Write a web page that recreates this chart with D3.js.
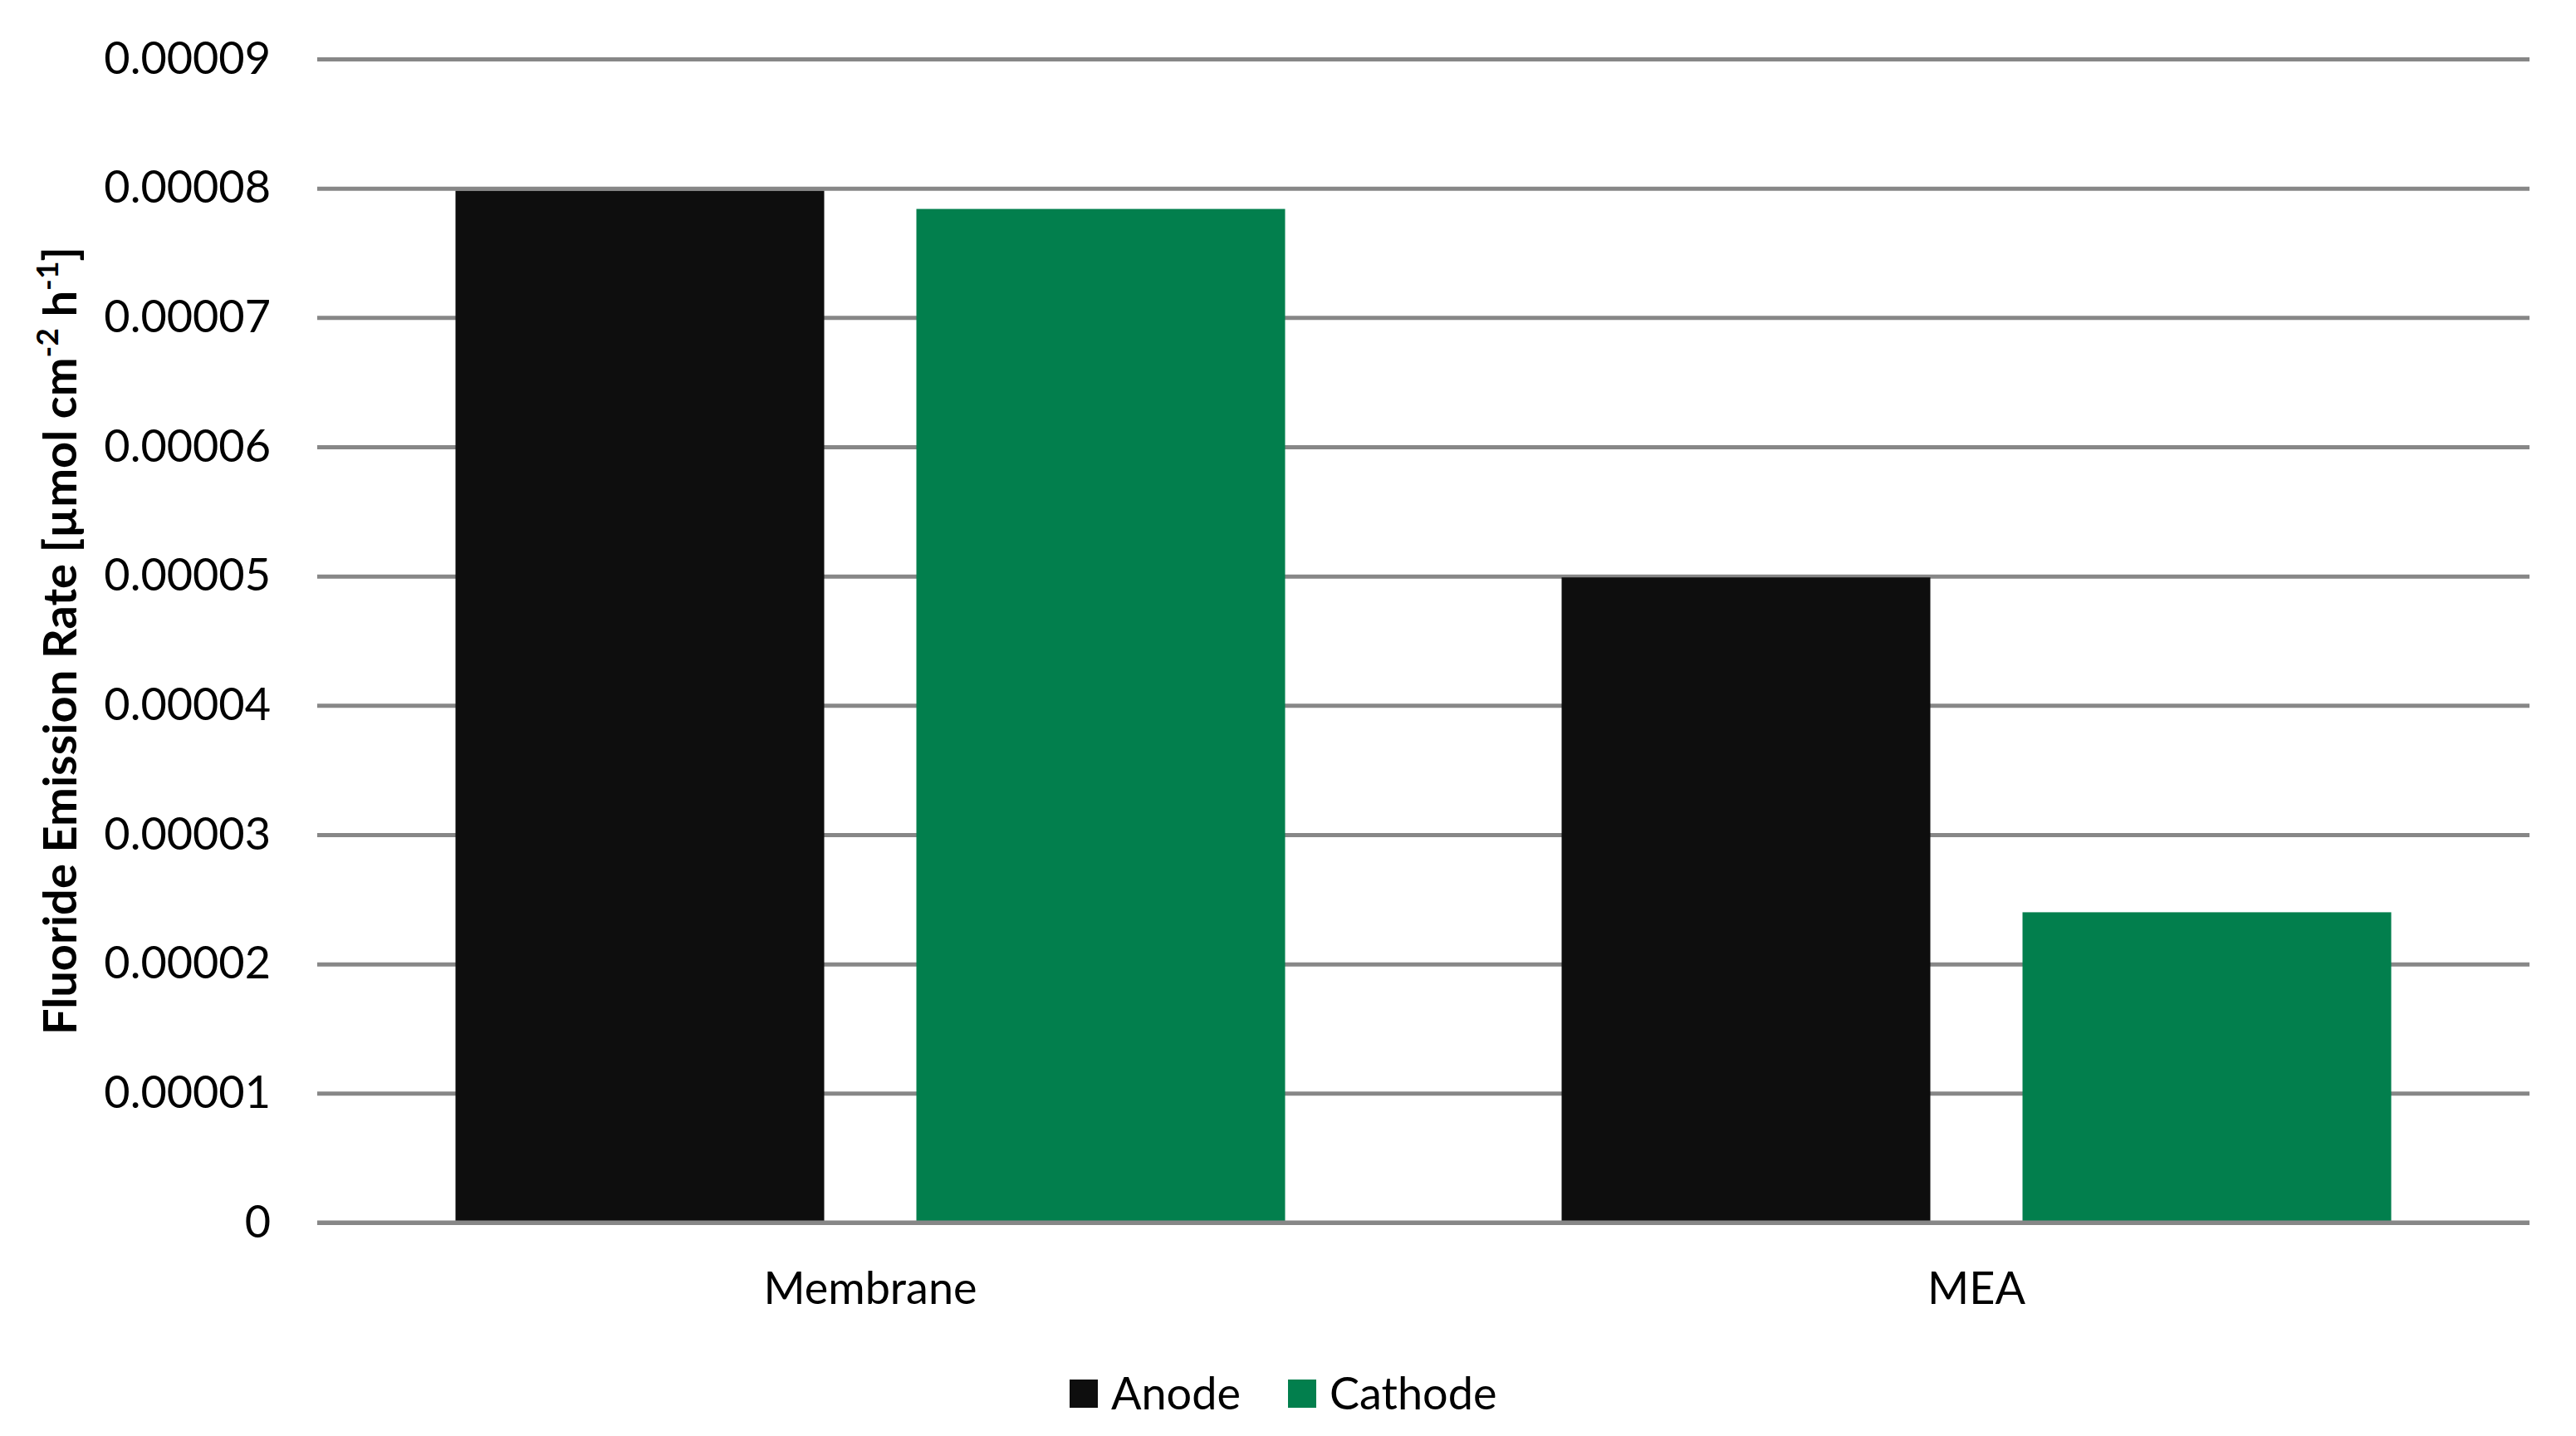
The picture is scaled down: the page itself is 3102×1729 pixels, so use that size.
<!DOCTYPE html>
<html>
<head>
<meta charset="utf-8">
<script src="https://cdn.jsdelivr.net/npm/d3@7"></script>
<style>
  body { margin: 0; background: #fff; }
  text { font-family: Lato, 'Open Sans', sans-serif; }
</style>
</head>
<body>
<div id="chart"></div>
<script>
// Data
const categories = ['Membrane', 'MEA'];
const seriesNames = ['Anode', 'Cathode'];
const anodeValues = [0.0000798, 0.0000499];
const cathodeValues = [0.0000784, 0.000024];
const yTickValues = [0, 0.00001, 0.00002, 0.00003, 0.00004, 0.00005, 0.00006, 0.00007, 0.00008, 0.00009];
const colors = ['#0e0e0e', '#027f4d'];

const dataset = categories.map((c, i) => ({
  category: c,
  values: [
    { key: seriesNames[0], value: anodeValues[i] },
    { key: seriesNames[1], value: cathodeValues[i] }
  ]
}));

// Dimensions
let dimensions = {
  width: 3102,
  height: 1729,
  margin: { top: 71, bottom: 257, left: 382, right: 56 }
};
dimensions.ctrWidth = dimensions.width - dimensions.margin.left - dimensions.margin.right;
dimensions.ctrHeight = dimensions.height - dimensions.margin.top - dimensions.margin.bottom;

const svg = d3.select('#chart')
  .append('svg')
  .attr('width', dimensions.width)
  .attr('height', dimensions.height);

const ctr = svg.append('g')
  .attr('transform', `translate(${dimensions.margin.left}, ${dimensions.margin.top})`);

// Scales
const yScale = d3.scaleLinear()
  .domain([0, 0.00009])
  .range([dimensions.ctrHeight, 0]);

const x0 = d3.scaleBand()
  .domain(categories)
  .range([0, dimensions.ctrWidth]);

const x1 = d3.scaleBand()
  .domain(seriesNames)
  .range([0, x0.bandwidth()])
  .paddingInner(0.2)
  .paddingOuter(0.3);

const color = d3.scaleOrdinal().domain(seriesNames).range(colors);

// Gridlines (y axis)
const yAxis = d3.axisLeft(yScale)
  .tickValues(yTickValues)
  .tickSize(-dimensions.ctrWidth)
  .tickPadding(56)
  .tickFormat(d => d === 0 ? '0' : d3.format('.5f')(d));

const yAxisG = ctr.append('g').call(yAxis);
yAxisG.select('.domain').remove();
yAxisG.selectAll('.tick line')
  .attr('stroke', '#878787')
  .attr('stroke-width', 5);
yAxisG.selectAll('.tick text')
  .attr('font-size', 54)
  .attr('fill', '#000')
  .attr('font-family', 'Lato, sans-serif');

// Bars
const groups = ctr.selectAll('.group')
  .data(dataset)
  .join('g')
  .attr('transform', d => `translate(${x0(d.category)}, 0)`);

groups.selectAll('rect')
  .data(d => d.values)
  .join('rect')
  .attr('x', d => x1(d.key))
  .attr('y', d => yScale(d.value))
  .attr('width', x1.bandwidth())
  .attr('height', d => dimensions.ctrHeight - yScale(d.value))
  .attr('fill', d => color(d.key));

// Baseline redraw on top of bars
ctr.append('line')
  .attr('x1', 0)
  .attr('x2', dimensions.ctrWidth)
  .attr('y1', yScale(0))
  .attr('y2', yScale(0))
  .attr('stroke', '#878787')
  .attr('stroke-width', 5);

// X axis labels
const xAxis = d3.axisBottom(x0).tickSize(0).tickPadding(60);
const xAxisG = ctr.append('g')
  .attr('transform', `translate(0, ${dimensions.ctrHeight})`)
  .call(xAxis);
xAxisG.select('.domain').remove();
xAxisG.selectAll('.tick text')
  .attr('font-size', 54)
  .attr('fill', '#000')
  .attr('font-family', 'Lato, sans-serif');

// Y axis title
const title = svg.append('text')
  .attr('transform', `translate(92, ${dimensions.margin.top + dimensions.ctrHeight / 2}) rotate(-90)`)
  .attr('text-anchor', 'middle')
  .attr('font-size', 56)
  .attr('font-weight', 'bold')
  .attr('fill', '#000');
title.append('tspan').text('Fluoride Emission Rate [µmol cm');
title.append('tspan').attr('font-size', 37).attr('baseline-shift', 'super').text('-2');
title.append('tspan').text(' h');
title.append('tspan').attr('font-size', 37).attr('baseline-shift', 'super').text('-1');
title.append('tspan').text(']');

// Legend
const legendItems = [
  { key: seriesNames[0], x: 1288 },
  { key: seriesNames[1], x: 1551 }
];
const legend = svg.append('g');
legendItems.forEach(item => {
  legend.append('rect')
    .attr('x', item.x)
    .attr('y', 1661)
    .attr('width', 34)
    .attr('height', 34)
    .attr('fill', color(item.key));
  legend.append('text')
    .attr('x', item.x + 50)
    .attr('y', 1697)
    .attr('font-size', 54)
    .attr('fill', '#000')
    .text(item.key);
});
</script>
</body>
</html>
